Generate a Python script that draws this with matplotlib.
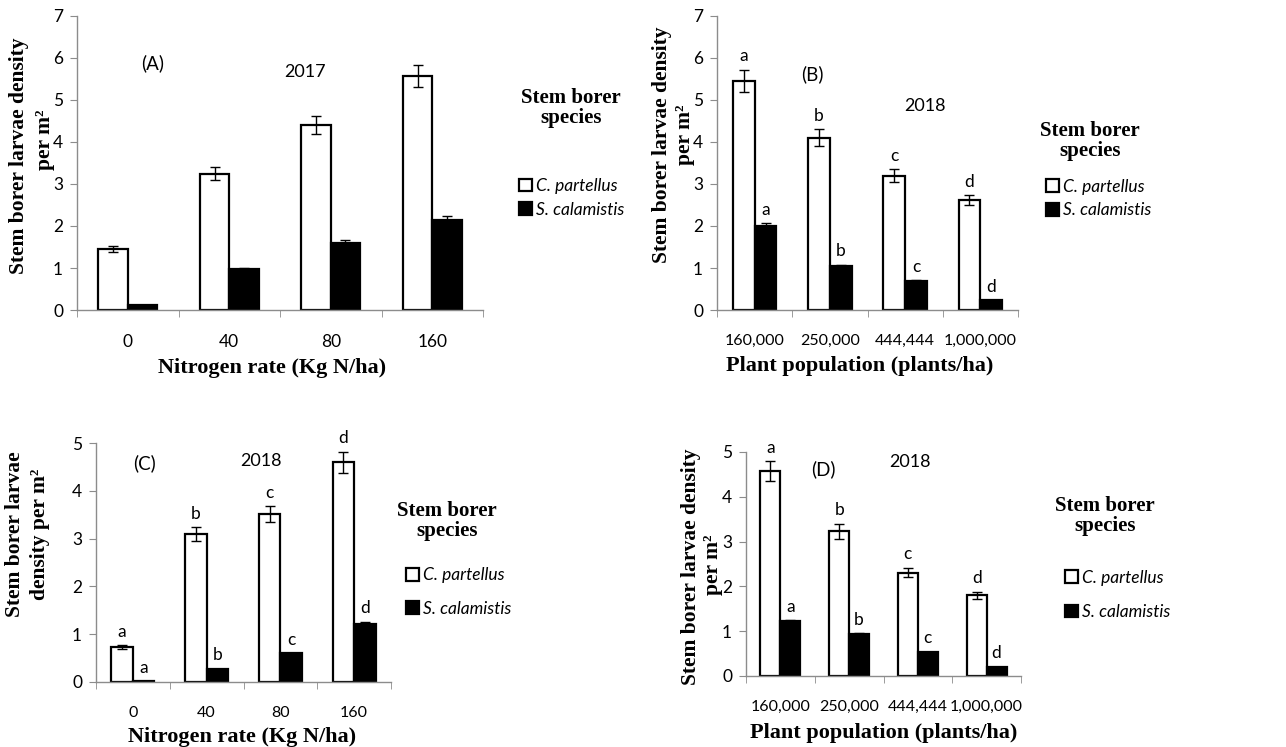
import numpy as np
import matplotlib
matplotlib.use('Agg')
import matplotlib.pyplot as plt

plt.rcParams['font.family'] = ['Lato', 'DejaVu Sans']

# categories
nitrogen_rates = ['0', '40', '80', '160']
plant_pops = ['160,000', '250,000', '444,444', '1,000,000']

# (A) nitrogen 2017
a_partellus = [1.45, 3.25, 4.40, 5.57]
a_partellus_err = [0.07, 0.16, 0.22, 0.27]
a_calamistis = [0.12, 0.97, 1.60, 2.15]
a_calamistis_err = [0.0, 0.03, 0.07, 0.09]

# (B) plant population 2018
b_partellus = [5.45, 4.10, 3.20, 2.62]
b_partellus_err = [0.27, 0.20, 0.16, 0.12]
b_calamistis = [1.99, 1.05, 0.69, 0.23]
b_calamistis_err = [0.08, 0.03, 0.02, 0.0]

# (C) nitrogen 2018
c_partellus = [0.73, 3.09, 3.51, 4.60]
c_partellus_err = [0.04, 0.15, 0.17, 0.22]
c_calamistis = [0.02, 0.28, 0.61, 1.22]
c_calamistis_err = [0.0, 0.0, 0.0, 0.04]

# (D) plant population 2018
d_partellus = [4.57, 3.23, 2.31, 1.80]
d_partellus_err = [0.22, 0.17, 0.11, 0.08]
d_calamistis = [1.22, 0.94, 0.54, 0.21]
d_calamistis_err = [0.03, 0.02, 0.0, 0.0]

letters = ['a', 'b', 'c', 'd']

W, H = 1286, 747
fig = plt.figure(figsize=(W / 100, H / 100), dpi=100)

GRAY = '#8c8c8c'
SERIF = dict(family='Liberation Serif', weight='bold')
YL = 15.5


def P(x, y):
    return x / W, 1 - y / H


def add_ax(x0, ytop, x1, ybot):
    return fig.add_axes([x0 / W, 1 - ybot / H, (x1 - x0) / W, (ybot - ytop) / H])


def draw(ax, cats, white, werr, black, berr, ymax, with_letters, xfs):
    x = np.arange(len(cats))
    w = 0.29
    ek = dict(elinewidth=1, capsize=3.5, capthick=1, ecolor='black')
    bw = ax.bar(x - w / 2, white, w, color='white', edgecolor='black', linewidth=1.6,
                yerr=werr, error_kw=ek, label='C. partellus')
    bb = ax.bar(x + w / 2, black, w, color='black', edgecolor='black', linewidth=1.6,
                yerr=berr, error_kw=ek, label='S. calamistis')
    if with_letters:
        for i in range(len(cats)):
            ax.annotate(letters[i], (x[i] - w / 2, white[i] + werr[i]), xytext=(0, 6),
                        textcoords='offset points', ha='center', va='baseline', fontsize=12.5)
            ax.annotate(letters[i], (x[i] + w / 2, black[i] + berr[i]), xytext=(0, 6),
                        textcoords='offset points', ha='center', va='baseline', fontsize=12.5)
    ax.set_xlim(-0.5, len(cats) - 0.5)
    ax.set_ylim(0, ymax)
    ax.set_yticks(range(0, ymax + 1))
    ax.set_xticks(x)
    ax.set_xticklabels(cats)
    ax.set_xticks(np.arange(-0.5, len(cats)), minor=True)
    ax.tick_params(axis='x', which='major', length=0, pad=17, labelsize=xfs)
    ax.tick_params(axis='x', which='minor', length=5, color=GRAY, direction='out')
    ax.tick_params(axis='y', length=5, color=GRAY, pad=5, labelsize=12.5)
    for s in ['top', 'right']:
        ax.spines[s].set_visible(False)
    for s in ['left', 'bottom']:
        ax.spines[s].set_color(GRAY)
        ax.spines[s].set_linewidth(1)
    return bw, bb


def legend(handles, title_x, title_y, sq_x, row_y, spacing):
    fig.text(*P(title_x, title_y), 'Stem borer\nspecies', ha='center', va='center',
             fontsize=15, linespacing=1.05, **SERIF)
    fig.legend(handles, ['C. partellus', 'S. calamistis'], loc='center left',
               bbox_to_anchor=P(sq_x, row_y), frameon=False, borderpad=0, borderaxespad=0,
               handlelength=0.75, handleheight=0.75, handletextpad=0.25, labelspacing=spacing,
               prop=dict(family='Lato', style='italic', size=12.5))


# panel A
ax = add_ax(77, 16, 483, 310)
h = draw(ax, nitrogen_rates, a_partellus, a_partellus_err, a_calamistis, a_calamistis_err, 7, False, 12.5)
fig.text(*P(153, 63), '(A)', ha='center', va='center', fontsize=13.5)
fig.text(*P(305, 72), '2017', ha='center', va='center', fontsize=13)
fig.text(*P(19, 156), 'Stem borer larvae density', rotation=90, ha='center', va='center', fontsize=YL, **SERIF)
fig.text(*P(45, 140), 'per m²', rotation=90, ha='center', va='center', fontsize=YL, **SERIF)
fig.text(*P(272, 368), 'Nitrogen rate (Kg N/ha)', ha='center', va='center', fontsize=16, **SERIF)
legend(h, 571, 108, 519, 198, 0.45)

# panel B
ax = add_ax(717, 16, 1018, 310)
h = draw(ax, plant_pops, b_partellus, b_partellus_err, b_calamistis, b_calamistis_err, 7, True, 11.5)
fig.text(*P(812, 74), '(B)', ha='center', va='center', fontsize=13.5)
fig.text(*P(925, 106), '2018', ha='center', va='center', fontsize=13)
fig.text(*P(662, 145), 'Stem borer larvae density', rotation=90, ha='center', va='center', fontsize=YL, **SERIF)
fig.text(*P(685, 135), 'per m²', rotation=90, ha='center', va='center', fontsize=YL, **SERIF)
fig.text(*P(860, 366), 'Plant population (plants/ha)', ha='center', va='center', fontsize=16, **SERIF)
legend(h, 1090, 141, 1046, 198.5, 0.45)

# panel C
ax = add_ax(96, 443, 391, 682)
h = draw(ax, nitrogen_rates, c_partellus, c_partellus_err, c_calamistis, c_calamistis_err, 5, True, 11.5)
fig.text(*P(145, 463), '(C)', ha='center', va='center', fontsize=13.5)
fig.text(*P(261, 461), '2018', ha='center', va='center', fontsize=13)
fig.text(*P(15, 534), 'Stem borer larvae', rotation=90, ha='center', va='center', fontsize=YL, **SERIF)
fig.text(*P(40, 534), 'density per m²', rotation=90, ha='center', va='center', fontsize=YL, **SERIF)
fig.text(*P(242, 737), 'Nitrogen rate (Kg N/ha)', ha='center', va='center', fontsize=16, **SERIF)
legend(h, 447, 521, 406, 592, 1.0)

# panel D
ax = add_ax(746, 452, 1021, 676)
h = draw(ax, plant_pops, d_partellus, d_partellus_err, d_calamistis, d_calamistis_err, 5, True, 11.5)
fig.text(*P(823, 469), '(D)', ha='center', va='center', fontsize=13.5)
fig.text(*P(910, 462), '2018', ha='center', va='center', fontsize=13)
fig.text(*P(691, 567), 'Stem borer larvae density', rotation=90, ha='center', va='center', fontsize=YL, **SERIF)
fig.text(*P(713, 565), 'per m²', rotation=90, ha='center', va='center', fontsize=YL, **SERIF)
fig.text(*P(884, 733), 'Plant population (plants/ha)', ha='center', va='center', fontsize=16, **SERIF)
legend(h, 1105, 516, 1065, 595, 1.05)

fig.savefig('out.png', dpi=100)
